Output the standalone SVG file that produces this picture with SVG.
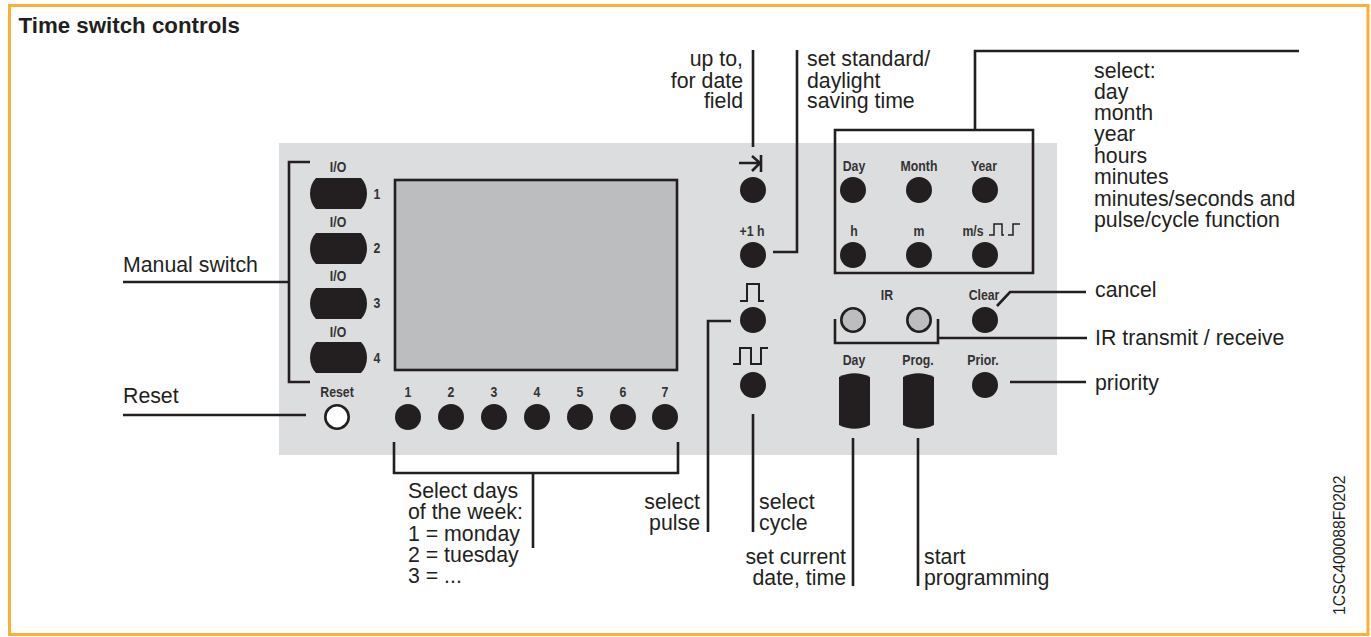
<svg xmlns="http://www.w3.org/2000/svg" width="1371" height="637" viewBox="0 0 1371 637">
<style>
text{font-family:"Liberation Sans",Arial,sans-serif;fill:#231f20}
.l{font-size:21.3px}
.b{font-size:15px;font-weight:bold;text-anchor:middle;fill:#333}
.r{text-anchor:end}
.k{fill:#231f20}
.c{fill:none;stroke:#231f20;stroke-width:2.6}
.s{fill:none;stroke:#231f20;stroke-width:2}
.i{fill:#bcbdbf;stroke:#231f20;stroke-width:2.6}
</style>
<defs>
<path id="h" d="M316 178H361C369 186 369 201 361 209H316C308 201 308 186 316 178Z"/>
<path id="v" d="M0 4C10-1 21-1 31 4V52C21 57 10 57 0 52Z"/>
</defs>
<rect width="1371" height="637" fill="#fff"/>
<rect x="9.500" y="5.500" width="1358.500" height="629" fill="none" stroke="#fbb034" stroke-width="3"/>
<rect id="panel" x="279" y="143" width="778" height="312" fill="#dcddde"/>
<text x="18.500" y="33" style="font-size:22.3px;font-weight:bold">Time switch controls</text>
<g id="connectors">
<path class="c" d="M123 282H289M310 162H289V382H310"/>
<path class="c" d="M123 415H306"/>
<path class="c" d="M394 442V473H678V442M533 473V548"/>
<path class="c" d="M753 50V147"/>
<path class="c" d="M797 50V252H773"/>
<path class="c" d="M1299 51H975V130M835 130H1033V273H835Z"/>
<path class="c" d="M731 321H708V532"/>
<path class="c" d="M753 414V532"/>
<path class="c" d="M853 438V586"/>
<path class="c" d="M918 438V586"/>
<path class="c" d="M997 306L1010 292H1086"/>
<path class="c" d="M835 319V343H938V319M938 338H1087"/>
<path class="c" d="M1010 382H1086"/>
</g>
<g id="manual-switches">
<use href="#h" class="k"/><use href="#h" class="k" y="55"/><use href="#h" class="k" y="110"/><use href="#h" class="k" y="164"/>
<text class="b" transform="translate(338 172) scale(.82 1)">I/O</text><text class="b" transform="translate(338 227) scale(.82 1)">I/O</text><text class="b" transform="translate(338 281) scale(.82 1)">I/O</text><text class="b" transform="translate(338 337) scale(.82 1)">I/O</text>
<text class="b" transform="translate(377 199) scale(.82 1)">1</text><text class="b" transform="translate(377 253) scale(.82 1)">2</text><text class="b" transform="translate(377 308) scale(.82 1)">3</text><text class="b" transform="translate(377 363) scale(.82 1)">4</text>
</g>
<rect id="display" x="395" y="180" width="282" height="190" fill="#bcbdbf" stroke="#231f20" stroke-width="2.600"/>
<g id="reset"><text class="b" transform="translate(337 397) scale(.82 1)">Reset</text><circle cx="337" cy="417" r="11.700" fill="#fff" stroke="#231f20" stroke-width="2.600"/></g>
<g id="day-keys">
<text class="b" transform="translate(408 397) scale(.82 1)">1</text><text class="b" transform="translate(451 397) scale(.82 1)">2</text><text class="b" transform="translate(494 397) scale(.82 1)">3</text><text class="b" transform="translate(537 397) scale(.82 1)">4</text><text class="b" transform="translate(580 397) scale(.82 1)">5</text><text class="b" transform="translate(623 397) scale(.82 1)">6</text><text class="b" transform="translate(665 397) scale(.82 1)">7</text>
<circle class="k" cx="408" cy="417" r="13"/><circle class="k" cx="451" cy="417" r="13"/><circle class="k" cx="494" cy="417" r="13"/><circle class="k" cx="537" cy="417" r="13"/><circle class="k" cx="580" cy="417" r="13"/><circle class="k" cx="623" cy="417" r="13"/><circle class="k" cx="665" cy="417" r="13"/>
</g>
<g id="middle-keys">
<path class="c" d="M739 163H759M752 156L760 163L752 171M761 155V172"/>
<circle class="k" cx="753" cy="190" r="13"/>
<text class="b" transform="translate(752 236) scale(.82 1)">+1 h</text>
<circle class="k" cx="753" cy="255" r="13"/>
<path class="s" d="M740 301H747V284H759V301H764"/>
<circle class="k" cx="753" cy="320" r="13"/>
<path class="s" d="M733 364H740V348H751V364H761V348H768"/>
<circle class="k" cx="753" cy="385" r="13"/>
</g>
<g id="time-keys">
<text class="b" transform="translate(854 171) scale(.82 1)">Day</text><text class="b" transform="translate(919 171) scale(.82 1)">Month</text><text class="b" transform="translate(984 171) scale(.82 1)">Year</text>
<circle class="k" cx="853" cy="190" r="13"/><circle class="k" cx="919" cy="190" r="13"/><circle class="k" cx="985" cy="190" r="13"/>
<text class="b" transform="translate(854 236) scale(.82 1)">h</text><text class="b" transform="translate(919 236) scale(.82 1)">m</text><text class="b" transform="translate(973 236) scale(.82 1)">m/s</text>
<path class="s" style="stroke-width:1.500" d="M989 235H994V224H1002V235H1004M1008 235H1013V224H1020"/>
<circle class="k" cx="853" cy="255" r="13"/><circle class="k" cx="919" cy="255" r="13"/><circle class="k" cx="985" cy="255" r="13"/>
</g>
<g id="ir-keys">
<text class="b" transform="translate(887 300) scale(.82 1)">IR</text>
<circle class="i" cx="853" cy="320" r="11.700"/><circle class="i" cx="919" cy="320" r="11.700"/>
<text class="b" transform="translate(984 300) scale(.82 1)">Clear</text>
<circle class="k" cx="985" cy="320" r="13"/>
</g>
<g id="lower-keys">
<text class="b" transform="translate(854 365) scale(.82 1)">Day</text><text class="b" transform="translate(918 365) scale(.82 1)">Prog.</text><text class="b" transform="translate(983 365) scale(.82 1)">Prior.</text>
<use href="#v" class="k" x="839" y="373"/><use href="#v" class="k" x="903" y="373"/>
<circle class="k" cx="985" cy="385" r="13"/>
</g>
<g id="labels">
<text class="l" x="123" y="272">Manual switch</text>
<text class="l" x="123" y="403">Reset</text>
<text class="l"><tspan x="408" y="498">Select days</tspan><tspan x="408" y="519">of the week:</tspan><tspan x="408" y="541">1 = monday</tspan><tspan x="408" y="562">2 = tuesday</tspan><tspan x="408" y="583">3 = ...</tspan></text>
<text class="l r"><tspan x="743" y="66">up to,</tspan><tspan x="743" y="88">for date</tspan><tspan x="743" y="108">field</tspan></text>
<text class="l"><tspan x="807" y="66">set standard/</tspan><tspan x="807" y="88">daylight</tspan><tspan x="807" y="108">saving time</tspan></text>
<text class="l"><tspan x="1094" y="78">select:</tspan><tspan x="1094" y="99">day</tspan><tspan x="1094" y="120">month</tspan><tspan x="1094" y="141">year</tspan><tspan x="1094" y="163">hours</tspan><tspan x="1094" y="184">minutes</tspan><tspan x="1094" y="206">minutes/seconds and</tspan><tspan x="1094" y="227">pulse/cycle function</tspan></text>
<text class="l" x="1095" y="297">cancel</text><text class="l" x="1095" y="345">IR transmit / receive</text><text class="l" x="1095" y="390">priority</text>
<text class="l r"><tspan x="700" y="509">select</tspan><tspan x="700" y="530">pulse</tspan></text>
<text class="l"><tspan x="759" y="509">select</tspan><tspan x="759" y="530">cycle</tspan></text>
<text class="l r"><tspan x="846" y="564">set current</tspan><tspan x="846" y="585">date, time</tspan></text>
<text class="l"><tspan x="924" y="564">start</tspan><tspan x="924" y="585">programming</tspan></text>
<text transform="translate(1345 615) rotate(-90)" style="font-size:15.800px">1CSC400088F0202</text>
</g>
</svg>
